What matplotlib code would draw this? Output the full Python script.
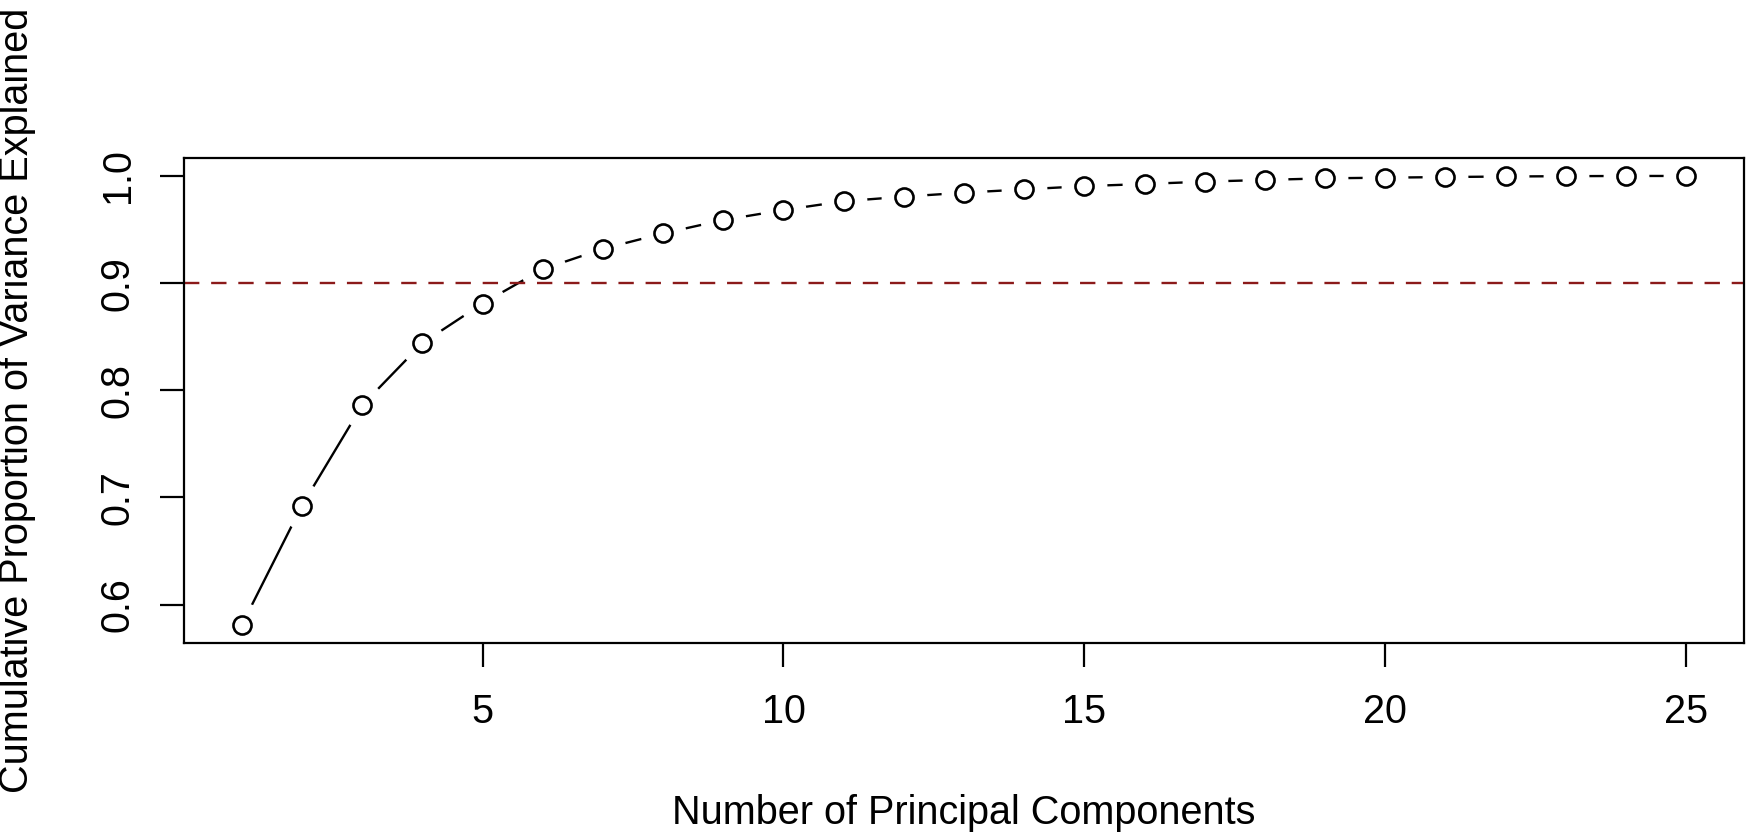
# cumulative proportion of variance explained by principal components (R-style scree plot)

import numpy as np
import matplotlib
matplotlib.use("Agg")
import matplotlib.pyplot as plt

n_components = list(range(1, 26))
cum_var = [0.581, 0.6925, 0.786, 0.844, 0.881, 0.913, 0.932, 0.9464, 0.9589, 0.9682,
           0.9764, 0.9807, 0.9844, 0.9875, 0.9905, 0.9925, 0.9947, 0.9963, 0.9978, 0.9984,
           0.999, 0.9995, 0.9998, 1.0, 1.0]
threshold = 0.9
y_ticks = [0.6, 0.7, 0.8, 0.9, 1.0]
x_ticks = [5, 10, 15, 20, 25]

plt.rcParams["font.family"] = ["Liberation Sans", "DejaVu Sans"]
fs = 28.5

fig = plt.figure(figsize=(17.5, 8.39), dpi=100)
ax = fig.add_axes([184 / 1750, 1 - 643 / 839, 1560 / 1750, 485 / 839])

# type="b": line with gaps round the points
ax.plot(n_components, cum_var, color="black", lw=1.7, zorder=1)
ax.plot(n_components, cum_var, ls="none", marker="o", ms=33, mfc="white", mec="none", zorder=2)
ax.plot(n_components, cum_var, ls="none", marker="o", ms=13, mfc="white", mec="black",
        mew=1.9, zorder=3)
ax.axhline(threshold, color="#8b1a1a", lw=1.7, dashes=(6.5, 5), zorder=4)

ax.margins(0.04)
ax.set_xticks(x_ticks)
ax.set_yticks(y_ticks)
ax.set_yticklabels([f"{v:.1f}" for v in y_ticks])
ax.tick_params(axis="both", direction="out", length=17, width=1.6, labelsize=fs, color="black")
ax.tick_params(axis="x", pad=19)
ax.tick_params(axis="y", pad=17, labelrotation=90)
for lab in ax.get_yticklabels():
    lab.set_va("center")
for sp in ax.spines.values():
    sp.set_linewidth(1.6)
    sp.set_zorder(5)

fig.text(964 / 1750, 1 - 813 / 839, "Number of Principal Components", fontsize=fs,
         ha="center", va="center")
fig.text(17 / 1750, 1 - 400 / 839, "Cumulative Proportion of Variance Explained", fontsize=fs,
         ha="center", va="center", rotation=90)

fig.savefig("out.png", dpi=100, facecolor="white")
